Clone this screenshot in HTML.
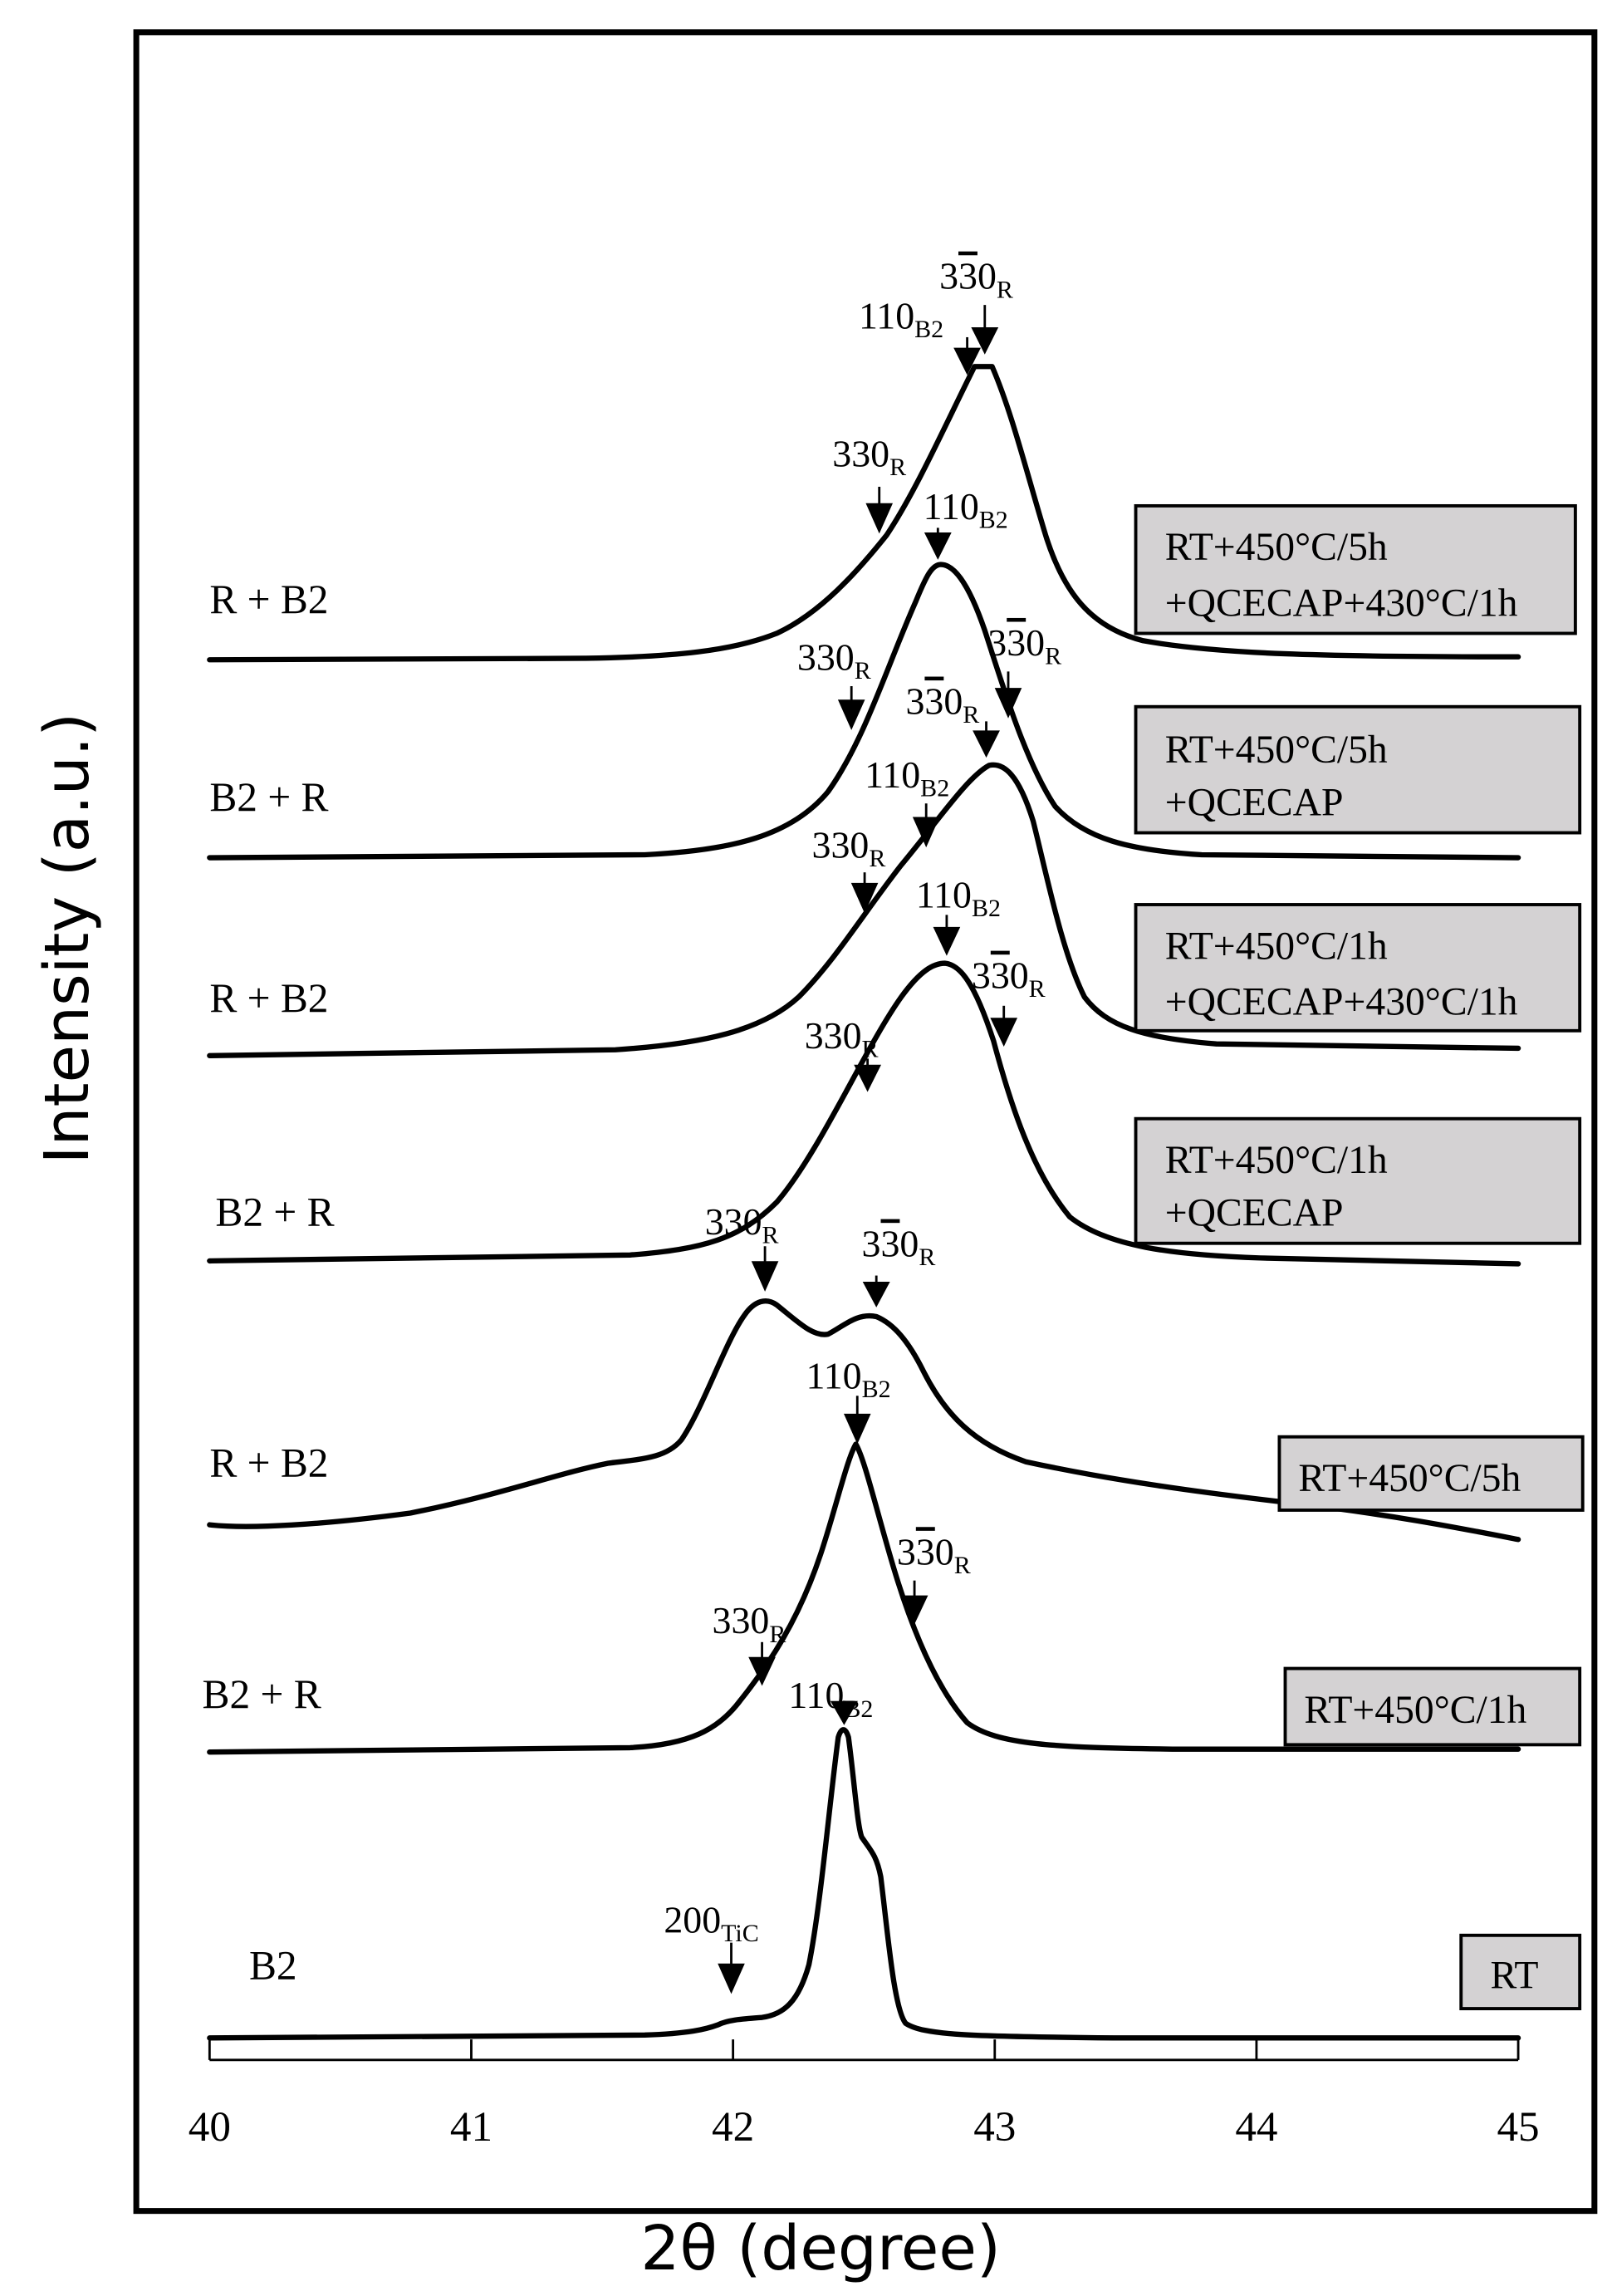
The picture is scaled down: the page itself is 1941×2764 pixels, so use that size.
<!DOCTYPE html>
<html><head><meta charset="utf-8"><style>
html,body{margin:0;padding:0;background:#fff}
svg{display:block}
.t{font-family:"Liberation Serif",serif;fill:#000}
.c{fill:none;stroke:#000;stroke-width:3.6;stroke-linejoin:round;stroke-linecap:round}
</style></head><body>
<svg width="1941" height="2764" viewBox="0 0 1100 1566" preserveAspectRatio="none" xmlns="http://www.w3.org/2000/svg">
<rect x="93" y="22" width="995" height="1486" fill="none" stroke="#000" stroke-width="4"/>
<path d="M143,1405 H1036 M143,1405 v-14 M321.6,1405 v-14 M500.2,1405 v-14 M678.8,1405 v-14 M857.4,1405 v-14 M1036,1405 v-14" stroke="#000" stroke-width="1.6" fill="none"/>
<g class="t" font-size="29" text-anchor="middle">
<text x="143" y="1460">40</text><text x="321.6" y="1460">41</text><text x="500.2" y="1460">42</text><text x="678.8" y="1460">43</text><text x="857.4" y="1460">44</text><text x="1036" y="1460">45</text>
</g>
<text x="560" y="1548" text-anchor="middle" font-family="DejaVu Sans, sans-serif" font-size="42">2θ (degree)</text>
<text transform="translate(60,640) rotate(-90)" text-anchor="middle" font-family="DejaVu Sans, sans-serif" font-size="42">Intensity (a.u.)</text>

<path class="c" d="M143,450 L400,449 C460,448 500,444 530,432 C560,418 585,390 605,365 C625,335 645,290 665,250 L677,250 C690,280 700,320 712,360 C725,405 745,428 780,437 C830,446 900,448 1036,448"/>
<path class="c" d="M143,585 L440,583 C500,580 540,570 565,540 C590,505 605,455 625,410 C632,393 636,385 642,385 C650,385 660,395 672,430 C685,470 700,520 720,550 C740,572 770,580 820,583 L1036,585"/>
<path class="c" d="M143,720 L420,716 C480,712 520,703 545,680 C570,655 590,622 615,590 C640,560 660,530 675,522 C685,520 695,528 705,560 C715,600 725,650 740,680 C755,700 780,708 830,712 L1036,715"/>
<path class="c" d="M143,860 L430,856 C480,852 505,845 530,820 C560,785 590,715 615,680 C628,662 637,657 645,657 C655,658 665,670 678,710 C690,755 705,800 730,830 C755,850 800,856 860,858 L1036,862"/>
<path class="c" d="M143,1040 C170,1043 220,1040 280,1032 C340,1020 380,1005 415,998 C440,995 455,994 465,982 C480,960 495,915 508,897 C515,887 523,885 530,890 C545,902 555,912 565,910 C575,905 585,895 598,898 C610,903 620,915 630,935 C645,965 665,985 700,997 C760,1010 820,1018 880,1025 C950,1033 1000,1043 1036,1050"/>
<path class="c" d="M143,1195 L430,1192 C470,1190 490,1180 505,1160 C525,1135 545,1105 560,1060 C570,1030 578,995 584,985 C590,995 598,1030 610,1070 C622,1110 638,1150 660,1175 C680,1190 720,1192 800,1193 L1036,1193"/>
<path class="c" d="M143,1390 L440,1388 C470,1387 482,1384 490,1381 C496,1378 505,1377 520,1376 C535,1374 545,1365 552,1340 C560,1300 566,1230 572,1185 C574,1178 577,1178 579,1185 C583,1215 585,1245 588,1253 C594,1262 598,1265 601,1280 C606,1320 610,1370 618,1380 C630,1388 660,1389 760,1390 L1036,1390"/>

<g stroke="#000" stroke-width="1.6" fill="#000">
<path d="M672,208 v18"/><path d="M664,224 h16 l-8,16 z"/>
<path d="M660,230 v10"/><path d="M652,238 h16 l-8,16 z"/>
<path d="M600,332 v14"/><path d="M592,344 h16 l-8,18 z"/>
<path d="M640,360 v6"/><path d="M632,364 h16 l-8,16 z"/>
<path d="M581,468 v12"/><path d="M573,478 h16 l-8,18 z"/>
<path d="M688,458 v14"/><path d="M680,470 h16 l-8,18 z"/>
<path d="M673,492 v8"/><path d="M665,499 h16 l-8,16 z"/>
<path d="M632,548 v12"/><path d="M624,558 h16 l-8,18 z"/>
<path d="M590,595 v10"/><path d="M582,603 h16 l-8,18 z"/>
<path d="M646,624 v10"/><path d="M638,633 h16 l-8,17 z"/>
<path d="M685,686 v10"/><path d="M677,695 h16 l-8,17 z"/>
<path d="M592,722 v6"/><path d="M584,727 h16 l-8,16 z"/>
<path d="M522,850 v12"/><path d="M514,861 h16 l-8,18 z"/>
<path d="M598,870 v6"/><path d="M590,875 h16 l-8,15 z"/>
<path d="M585,952 v14"/><path d="M577,965 h16 l-8,18 z"/>
<path d="M624,1078 v12"/><path d="M616,1089 h16 l-8,17 z"/>
<path d="M520,1120 v12"/><path d="M512,1131 h16 l-8,17 z"/>
<path d="M576,1160 v2"/><path d="M568,1161 h16 l-8,14 z"/>
<path d="M499,1325 v16"/><path d="M491,1340 h16 l-8,18 z"/>
</g>

<g class="t" font-size="26">
<text x="641" y="197">3<tspan text-decoration="overline">3</tspan>0<tspan font-size="17" dy="6">R</tspan></text>
<text x="586" y="224">110<tspan font-size="17" dy="6">B2</tspan></text>
<text x="568" y="318">330<tspan font-size="17" dy="6">R</tspan></text>
<text x="630" y="354">110<tspan font-size="17" dy="6">B2</tspan></text>
<text x="544" y="457">330<tspan font-size="17" dy="6">R</tspan></text>
<text x="674" y="447">3<tspan text-decoration="overline">3</tspan>0<tspan font-size="17" dy="6">R</tspan></text>
<text x="618" y="487">3<tspan text-decoration="overline">3</tspan>0<tspan font-size="17" dy="6">R</tspan></text>
<text x="590" y="537">110<tspan font-size="17" dy="6">B2</tspan></text>
<text x="554" y="585">330<tspan font-size="17" dy="6">R</tspan></text>
<text x="625" y="619">110<tspan font-size="17" dy="6">B2</tspan></text>
<text x="663" y="674">3<tspan text-decoration="overline">3</tspan>0<tspan font-size="17" dy="6">R</tspan></text>
<text x="549" y="715">330<tspan font-size="17" dy="6">R</tspan></text>
<text x="481" y="842">330<tspan font-size="17" dy="6">R</tspan></text>
<text x="588" y="857">3<tspan text-decoration="overline">3</tspan>0<tspan font-size="17" dy="6">R</tspan></text>
<text x="550" y="947">110<tspan font-size="17" dy="6">B2</tspan></text>
<text x="612" y="1067">3<tspan text-decoration="overline">3</tspan>0<tspan font-size="17" dy="6">R</tspan></text>
<text x="486" y="1114">330<tspan font-size="17" dy="6">R</tspan></text>
<text x="538" y="1165">110<tspan font-size="17" dy="6">B2</tspan></text>
<text x="453" y="1318">200<tspan font-size="17" dy="6">TiC</tspan></text>
</g>

<g class="t" font-size="28">
<text x="143" y="418">R + B2</text>
<text x="143" y="553">B2 + R</text>
<text x="143" y="690">R + B2</text>
<text x="147" y="836">B2 + R</text>
<text x="143" y="1007">R + B2</text>
<text x="138" y="1165">B2 + R</text>
<text x="170" y="1350">B2</text>
</g>

<g fill="#d4d2d3" stroke="#000" stroke-width="2.2">
<rect x="775" y="345" width="300" height="87"/>
<rect x="775" y="482" width="303" height="86"/>
<rect x="775" y="617" width="303" height="86"/>
<rect x="775" y="763" width="303" height="85"/>
<rect x="873" y="980" width="207" height="50"/>
<rect x="877" y="1138" width="201" height="52"/>
<rect x="997" y="1320" width="81" height="50"/>
</g>
<g class="t" font-size="27">
<text x="795" y="382">RT+450°C/5h</text><text x="795" y="420">+QCECAP+430°C/1h</text>
<text x="795" y="520">RT+450°C/5h</text><text x="795" y="556">+QCECAP</text>
<text x="795" y="654">RT+450°C/1h</text><text x="795" y="692">+QCECAP+430°C/1h</text>
<text x="795" y="800">RT+450°C/1h</text><text x="795" y="836">+QCECAP</text>
<text x="886" y="1017">RT+450°C/5h</text>
<text x="890" y="1175">RT+450°C/1h</text>
<text x="1017" y="1356">RT</text>
</g>
</svg>
</body></html>
